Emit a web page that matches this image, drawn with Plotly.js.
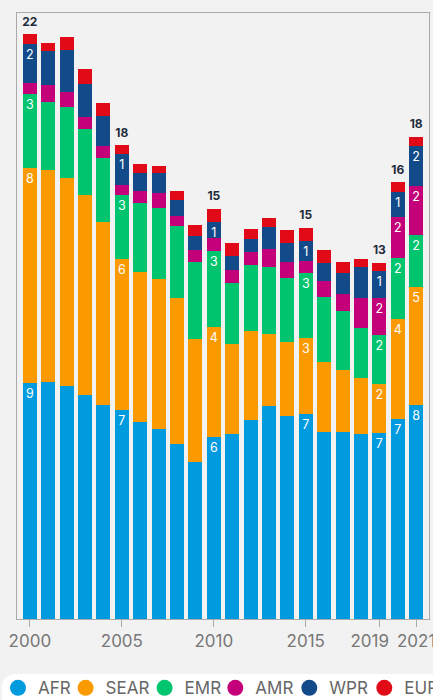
<!DOCTYPE html>
<html>
<head>
<meta charset="utf-8">
<script src="https://cdn.plot.ly/plotly-3.0.1.min.js"></script>
<style>
html,body{margin:0;padding:0;background:#f2f2f2;}
#chart{width:433px;height:700px;}
</style>
</head>
<body>
<div id="chart"></div>
<script>
// ---- data (millions) ----
const years = [2000,2001,2002,2003,2004,2005,2006,2007,2008,2009,2010,2011,2012,2013,2014,2015,2016,2017,2018,2019,2020,2021];
const regions = ['AFR','SEAR','EMR','AMR','WPR','EUR'];
const afr  = [8.84,8.89,8.74,8.39,8.01,7.83,7.39,7.12,6.57,5.89,6.82,6.94,7.46,7.99,7.61,7.69,7.01,7.01,6.94,6.97,7.49,8.01];
const sear = [8.06,7.93,7.79,7.49,6.87,5.66,5.62,5.62,5.47,4.61,4.12,3.37,3.32,2.70,2.77,2.85,2.62,2.32,2.10,1.85,3.76,4.42];
const emr  = [2.76,2.56,2.65,2.47,2.40,2.40,2.58,2.67,2.70,2.88,2.85,2.27,2.47,2.50,2.40,2.42,2.42,2.20,1.87,1.80,2.28,1.95];
const amr  = [0.41,0.63,0.57,0.45,0.45,0.37,0.44,0.55,0.37,0.45,0.50,0.50,0.50,0.67,0.60,0.45,0.60,0.65,1.12,1.42,1.52,1.85];
const wpr  = [1.47,1.25,1.57,1.25,1.12,1.17,0.67,0.75,0.60,0.52,0.60,0.52,0.48,0.82,0.70,0.75,0.67,0.78,1.15,1.00,0.95,1.50];
const eur  = [0.36,0.30,0.48,0.55,0.48,0.33,0.34,0.26,0.33,0.40,0.48,0.48,0.37,0.34,0.49,0.50,0.52,0.42,0.30,0.30,0.37,0.33];

// labels shown on selected years
const labelYears  = [2000,2005,2010,2015,2019,2020,2021];
const afrLabels   = ['9','7','6','7','7','7','8'];
const searLabels  = ['8','6','4','3','2','4','5'];
const emrLabels   = ['3','3','3','3','2','2','2'];
const amrLabels   = ['','','','','2','2','2'];
const wprLabels   = ['2','1','1','1','1','1','2'];
const eurLabels   = ['','','','','','',''];
const totalLabels = ['22','18','15','15','13','16','18'];

const tickYears = [2000,2005,2010,2015,2019,2021];
// "2019" is nudged left in the original to make room for "2021"
const tickText  = ['2000','2005','2010','2015','2019\u00A0\u00A0\u00A0\u00A0','2021'];

// ---- styling ----
const colors = ['#009ADE','#FA9A00','#00C56E','#C3007A','#134A8A','#E00B17'];
const FONT = 'Inter, "Open Sans", sans-serif';

function expand(labels){
  return years.map(y => { const i = labelYears.indexOf(y); return i >= 0 ? labels[i] : ''; });
}

const series = [afr, sear, emr, amr, wpr, eur];
const seriesLabels = [afrLabels, searLabels, emrLabels, amrLabels, wprLabels, eurLabels];

const traces = series.map((vals, i) => ({
  type: 'bar',
  x: years,
  y: vals,
  name: regions[i],
  marker: {color: colors[i], line: {width: 0}},
  text: expand(seriesLabels[i]),
  textposition: 'inside',
  insidetextanchor: 'end',
  textangle: 0,
  constraintext: 'none',
  insidetextfont: {color: '#ffffff', size: 12.5, family: FONT},
  hoverinfo: 'none',
  showlegend: false,
  cliponaxis: false
}));

const totals = years.map((y, j) => series.reduce((s, arr) => s + arr[j], 0));
traces.push({
  type: 'scatter',
  mode: 'markers+text',
  x: years,
  y: totals,
  marker: {size: 7, color: 'rgba(0,0,0,0)'},
  text: expand(totalLabels),
  textposition: 'top center',
  textfont: {color: '#1f2b3d', size: 12, family: FONT, weight: 700},
  hoverinfo: 'none',
  showlegend: false,
  cliponaxis: false
});

// legend entries (circle symbols), one legend each so they can be placed freely
const legendNames = ['legend','legend2','legend3','legend4','legend5','legend6'];
regions.forEach((r, i) => {
  traces.push({
    type: 'scatter', mode: 'markers',
    x: [null], y: [null],
    name: r,
    marker: {color: colors[i], size: 16},
    legend: legendNames[i],
    showlegend: true,
    hoverinfo: 'none'
  });
});

// geometry helpers (pixel -> paper)
const W = 433, H = 700, ML = 17, MR = 4, MT = 13, MB = 81;
const PW = W - ML - MR, PH = H - MT - MB;
const px2x = px => (px - ML) / PW;
const py2y = py => (H - MB - py) / PH;

const legendCenters = [21.7, 89.3, 168.3, 239, 313, 388];
const legendY = py2y(688.3);

const layout = {
  width: W, height: H,
  paper_bgcolor: '#f2f2f2',
  plot_bgcolor: '#f2f2f2',
  margin: {l: ML, r: MR, t: MT, b: MB, pad: 0, autoexpand: false},
  barmode: 'stack',
  bargap: 0.24,
  font: {family: FONT},
  showlegend: true,
  xaxis: {
    range: [1999.3, 2021.7],
    tickmode: 'array',
    tickvals: tickYears,
    ticktext: tickText,
    tickangle: 0,
    ticklabeloverflow: 'allow',
    ticks: 'outside', ticklen: 7, tickcolor: '#aaaaaa', tickwidth: 1,
    tickfont: {size: 17, color: '#777777', family: FONT},
    showline: true, mirror: true, linecolor: '#aaaaaa', linewidth: 1,
    showgrid: false, zeroline: false, fixedrange: true
  },
  yaxis: {
    range: [0, 22.70],
    showticklabels: false, ticks: '',
    showline: true, mirror: true, linecolor: '#aaaaaa', linewidth: 1,
    showgrid: false, zeroline: false, fixedrange: true
  },
  shapes: [(() => {
    const L = 2, T = 674, R = 460, B = 720, r = 14;
    const x = px2x, y = py2y;
    const path = `M ${x(L + r)} ${y(T)} L ${x(R)} ${y(T)} L ${x(R)} ${y(B)} L ${x(L)} ${y(B)} L ${x(L)} ${y(T + r)} Q ${x(L)} ${y(T)} ${x(L + r)} ${y(T)} Z`;
    return {type: 'path', xref: 'paper', yref: 'paper', path, fillcolor: '#ffffff', line: {width: 0}, layer: 'below'};
  })()]
};

legendNames.forEach((ln, i) => {
  const leftPx = legendCenters[i] - 3.7 - 20;
  layout[ln] = {
    orientation: 'h',
    x: px2x(leftPx), xanchor: 'left',
    y: legendY, yanchor: 'middle',
    bgcolor: 'rgba(0,0,0,0)', borderwidth: 0,
    font: {size: 17, color: '#666666', family: FONT},
    itemclick: false, itemdoubleclick: false
  };
  if (i === legendNames.length - 1) { layout[ln].entrywidth = 64; }
});

Plotly.newPlot('chart', traces, layout, {displayModeBar: false, staticPlot: true});
</script>
</body>
</html>
